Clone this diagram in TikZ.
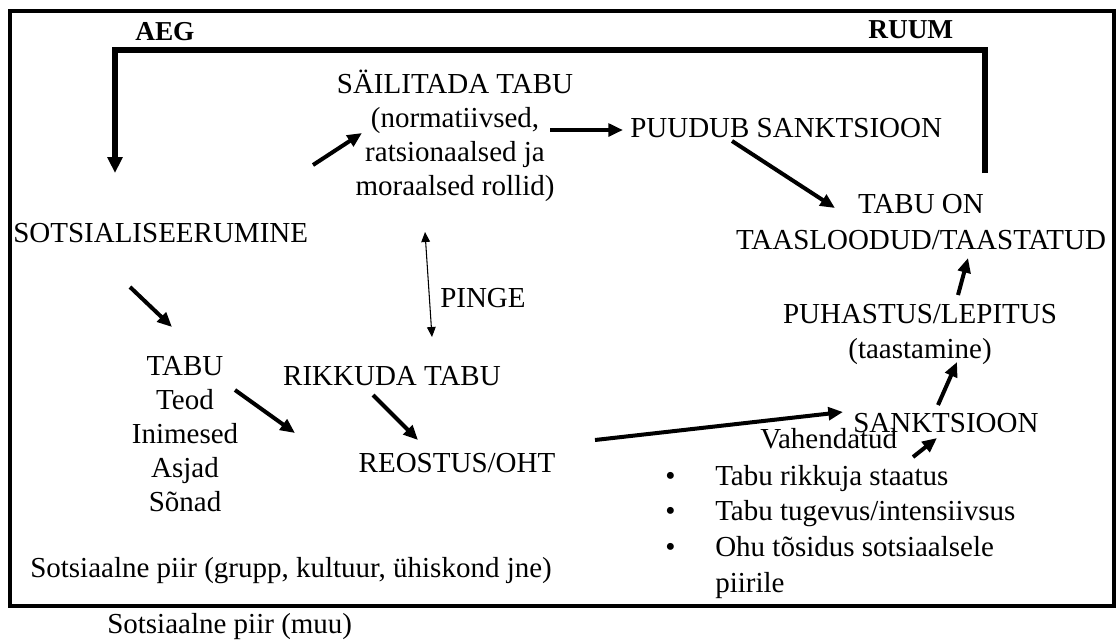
\documentclass[tikz,border=0pt]{standalone}
\usepackage{fontspec}
\setmainfont{Liberation Serif}
\usetikzlibrary{arrows.meta}

\begin{document}
\begin{tikzpicture}[x=0.75pt, y=-0.75pt,
    txt/.style={font=\fontsize{21.75}{25.5}\selectfont, inner sep=0pt, anchor=base, align=center},
    headword/.style={font=\fontsize{20.5}{24}\selectfont\bfseries, inner sep=0pt, anchor=base west},
    bigarrow/.style={line width=3pt, -{Triangle[length=11pt, width=9.5pt]}},
    pingearrow/.style={line width=0.8pt, {Triangle[length=7.5pt, width=6.5pt]}-{Triangle[length=7.5pt, width=6.5pt]}},
    bracket/.style={line width=4.5pt, -{Triangle[length=12pt, width=11pt]}}]
  \useasboundingbox (0,0) rectangle (1119,643);
  \draw[line width=3pt] (10,11) rectangle (1114,606);

  \node[headword] (aeg) at (135,40) {AEG};
  \node[headword] (ruum) at (868,38) {RUUM};

  \node[txt, anchor=base west] (sots) at (13,242) {SOTSIALISEERUMINE};
  \node[txt] (tabu) at (185,511) {TABU\\Teod\\Inimesed\\Asjad\\Sõnad};
  \node[txt] (rikkuda) at (392,385) {RIKKUDA TABU};
  \node[txt] (reostus) at (457,472) {REOSTUS/OHT};
  \node[txt] (sailitada) at (455,195) {SÄILITADA TABU\\(normatiivsed,\\ratsionaalsed ja\\moraalsed rollid)};
  \node[txt, anchor=base west] (pinge) at (440,307) {PINGE};
  \node[txt, anchor=base west] (puudub) at (630,137) {PUUDUB SANKTSIOON};
  \node[txt, font=\fontsize{21.75}{27}\selectfont] (taas) at (921,249) {TABU ON\\TAASLOODUD/TAASTATUD};
  \node[txt, font=\fontsize{21.75}{26.25}\selectfont] (puhastus) at (920,358) {PUHASTUS/LEPITUS\\(taastamine)};
  \node[txt, anchor=base west] (sanktsioon) at (853,432) {SANKTSIOON};
  \node[txt, anchor=base west] (vahend) at (760,448) {Vahendatud};
  \node[inner sep=0pt, anchor=base west, font=\fontsize{21.75}{26.8}\selectfont] (tegurid) at (665,485)
    {\begin{tabular}[t]{@{}p{37.5pt}@{}l@{}}
      \textbullet & Tabu rikkuja staatus\\
      \textbullet & Tabu tugevus/intensiivsus\\
      \textbullet & Ohu tõsidus sotsiaalsele\\
      & piirile
    \end{tabular}};
  \node[txt, anchor=base west] (piir) at (30,577) {Sotsiaalne piir (grupp, kultuur, ühiskond jne)};
  \node[txt, anchor=base west] (muu) at (107,633) {Sotsiaalne piir (muu)};

  \coordinate (ruumfoot) at (985,173);
  \coordinate (aegfoot) at (115,173);
  \coordinate (bartop) at (550,50);
  \draw[bracket] (ruumfoot) -- (ruumfoot |- bartop) -- (aegfoot |- bartop) -- (aegfoot);

  \coordinate (sots-out) at (130,287);   \coordinate (tabu-in) at (172,327);
  \coordinate (tabu-out) at (235,390);   \coordinate (reo-in1) at (295,433);
  \coordinate (rik-out) at (373,395);    \coordinate (reo-in2) at (418,440);
  \coordinate (sail-in) at (362,133);    \coordinate (sots-up) at (313,165);
  \coordinate (pinge-top) at (425,232);  \coordinate (pinge-bot) at (432,337);
  \coordinate (sail-out) at (550,130);   \coordinate (puu-in) at (623,130);
  \coordinate (puu-out) at (732,141);    \coordinate (taas-in1) at (835,208);
  \coordinate (reo-out) at (595,440);    \coordinate (sank-in) at (843,412);
  \coordinate (sank-out) at (938,405);   \coordinate (puh-in) at (957,362);
  \coordinate (puh-out) at (958,295);    \coordinate (taas-in2) at (968,258);
  \coordinate (vah-out) at (913,457);    \coordinate (sank-in2) at (937,438);

  \draw[bigarrow] (sots-out) -- (tabu-in);
  \draw[bigarrow] (tabu-out) -- (reo-in1);
  \draw[bigarrow] (rik-out) -- (reo-in2);
  \draw[bigarrow] (sots-up) -- (sail-in);
  \draw[pingearrow] (pinge-top) -- (pinge-bot);
  \draw[bigarrow] (sail-out) -- (puu-in);
  \draw[bigarrow] (puu-out) -- (taas-in1);
  \draw[bigarrow] (reo-out) -- (sank-in);
  \draw[bigarrow] (sank-out) -- (puh-in);
  \draw[bigarrow] (puh-out) -- (taas-in2);
  \draw[bigarrow] (vah-out) -- (sank-in2);
\end{tikzpicture}
\end{document}
